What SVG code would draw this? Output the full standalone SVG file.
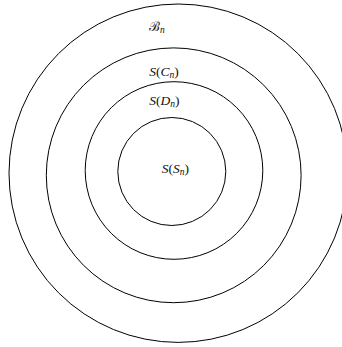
<svg xmlns="http://www.w3.org/2000/svg" width="342" height="347" viewBox="0 0 342 347">
<style>
.ring{fill:none;stroke:#000;stroke-width:1}
.lbl{font-family:"Liberation Serif","DejaVu Serif",serif;font-size:13.5px;fill:#111}
.it{font-style:italic}
.sub{font-style:italic;font-size:9.5px}
</style>
<rect width="342" height="347" fill="#fff"/>
<g id="Bn">
<circle class="ring" cx="178.2" cy="173.2" r="169.2"/>
<text class="lbl" x="149" y="30.5"><tspan font-family="DejaVu Serif, serif" font-size="13">ℬ</tspan><tspan class="sub" dy="2">n</tspan></text>
</g>
<g id="SCn">
<circle class="ring" cx="173.7" cy="175.3" r="127.4"/>
<text class="lbl" x="149.3" y="75.7"><tspan class="it">S</tspan>(<tspan class="it">C</tspan><tspan class="sub" dy="2">n</tspan><tspan dy="-2">)</tspan></text>
</g>
<g id="SDn">
<circle class="ring" cx="174" cy="170.5" r="88.8"/>
<text class="lbl" x="149.3" y="105"><tspan class="it">S</tspan>(<tspan class="it">D</tspan><tspan class="sub" dy="2">n</tspan><tspan dy="-2">)</tspan></text>
</g>
<g id="SSn">
<circle class="ring" cx="171.8" cy="171.5" r="54"/>
<text class="lbl" x="161.7" y="173.3"><tspan class="it">S</tspan>(<tspan class="it">S</tspan><tspan class="sub" dy="2">n</tspan><tspan dy="-2">)</tspan></text>
</g>
<g id="connectors"/>
</svg>
